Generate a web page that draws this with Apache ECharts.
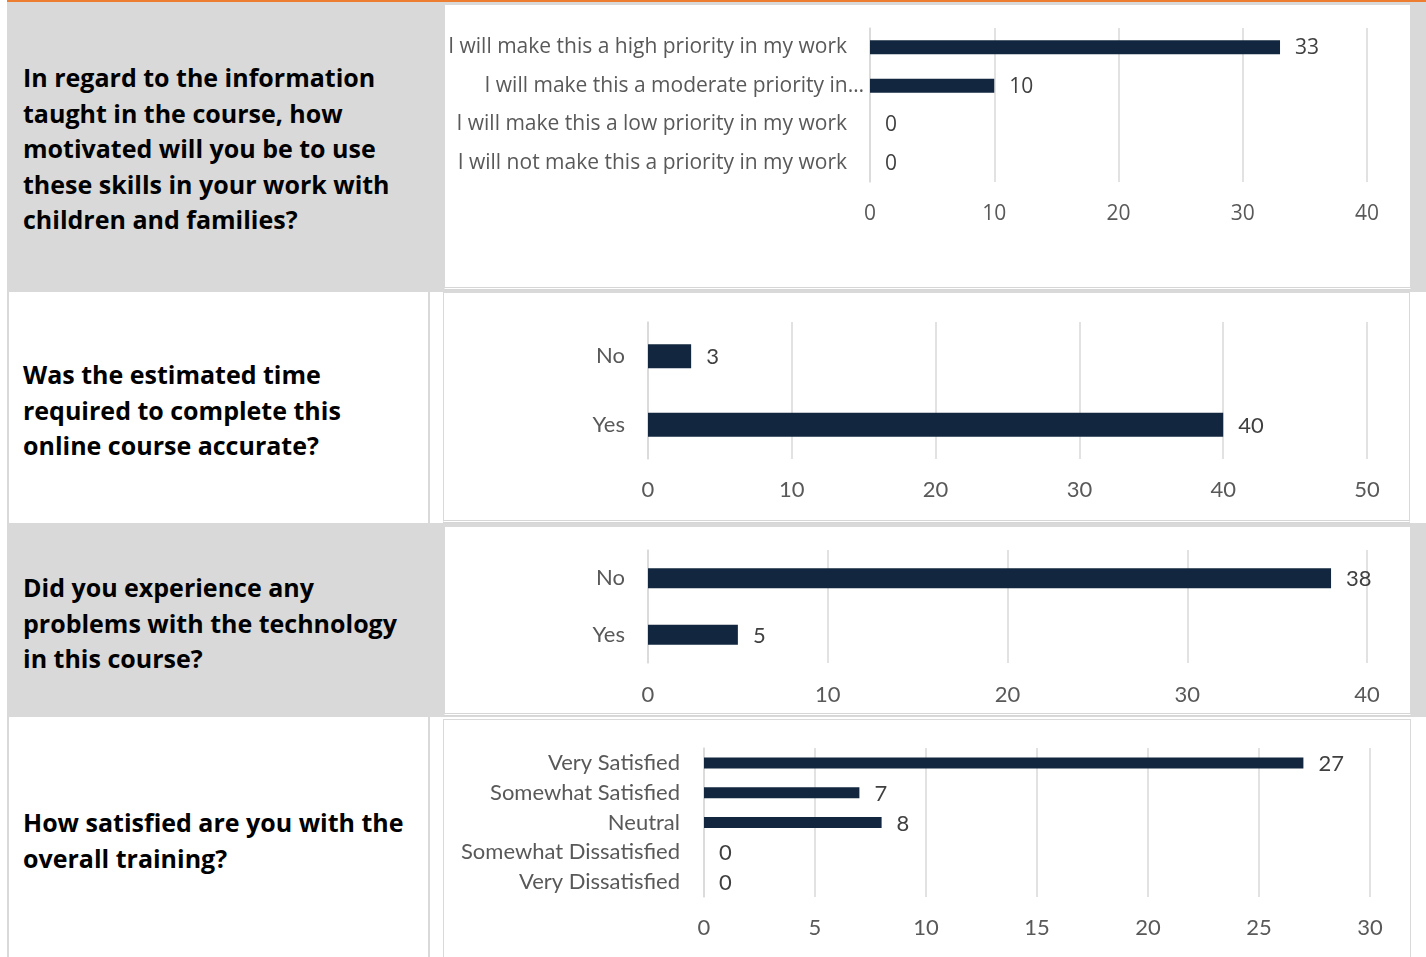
<!DOCTYPE html>
<html>
<head>
<meta charset="utf-8">
<script src="https://cdn.jsdelivr.net/npm/echarts@6/dist/echarts.min.js"></script>
<style>
  html, body { margin: 0; padding: 0; width: 1426px; height: 957px; overflow: hidden; background: #ffffff; }
  .abs { position: absolute; box-sizing: border-box; }
  .gray { background: #d9d9d9; }
  .box { background: #ffffff; border: 1px solid #d9d9d9; border-bottom: 3px double #d6d6d6; }
  .vline { background: #d9d9d9; width: 2px; }
  .q { position: absolute; left: 23px; font-family: "Open Sans", "Noto Sans", sans-serif; font-weight: 700; font-size: 25px; line-height: 35.5px; color: #000; white-space: nowrap; }
  #chart { position: absolute; left: 0; top: 0; width: 1426px; height: 957px; }
</style>
</head>
<body>
<!-- orange top rule -->
<div class="abs" style="left:7px;top:0;width:1419px;height:2px;background:#ed7d31;"></div>
<!-- row 1 -->
<div class="abs gray" style="left:7px;top:2px;width:1419px;height:290px;"></div>
<div class="abs box" style="left:444px;top:4px;width:967px;height:286px;"></div>
<div class="q" style="top:60px;">In regard to the information<br>taught in the course, how<br>motivated will you be to use<br>these skills in your work with<br>children and families?</div>
<!-- row 2 -->
<div class="abs vline" style="left:7px;top:292px;height:231px;"></div>
<div class="abs vline" style="left:428px;top:292px;height:231px;"></div>
<div class="abs box" style="left:443px;top:292px;width:967px;height:231px;"></div>
<div class="q" style="top:357px;">Was the estimated time<br>required to complete this<br>online course accurate?</div>
<!-- row 3 -->
<div class="abs gray" style="left:7px;top:523px;width:1419px;height:194px;"></div>
<div class="abs box" style="left:444px;top:526px;width:967px;height:190px;"></div>
<div class="q" style="top:570px;">Did you experience any<br>problems with the technology<br>in this course?</div>
<!-- row 4 -->
<div class="abs vline" style="left:7px;top:717px;height:240px;"></div>
<div class="abs vline" style="left:428px;top:717px;height:240px;"></div>
<div class="abs box" style="left:443px;top:719px;width:968px;height:250px;"></div>
<div class="q" style="top:805px;">How satisfied are you with the<br>overall training?</div>

<div id="chart"></div>
<script>
// ---- data ----
const motivationCategories = [
  'I will make this a high priority in my work',
  'I will make this a moderate priority in…',
  'I will make this a low priority in my work',
  'I will not make this a priority in my work'
];
const motivationValues = [33, 10, 0, 0];
const motivationTicks = [0, 10, 20, 30, 40];

const timeCategories = ['No', 'Yes'];
const timeValues = [3, 40];
const timeTicks = [0, 10, 20, 30, 40, 50];

const techCategories = ['No', 'Yes'];
const techValues = [38, 5];
const techTicks = [0, 10, 20, 30, 40];

const satisfactionCategories = ['Very Satisfied', 'Somewhat Satisfied', 'Neutral', 'Somewhat Dissatisfied', 'Very Dissatisfied'];
const satisfactionValues = [27, 7, 8, 0, 0];
const satisfactionTicks = [0, 5, 10, 15, 20, 25, 30];

// ---- styling ----
const BAR = '#13263f';
const GRID = '#d9d9d9';
const FONT1 = '"Open Sans", "Noto Sans", sans-serif';
const FONT2 = 'Lato, "Noto Sans", sans-serif';

const panels = [
  { cats: motivationCategories, vals: motivationValues, ticks: motivationTicks,
    grid: { left: 870, top: 28, width: 497, height: 154 }, barWidth: 14, font: FONT1, size: 21, ymargin: 6, xmargin: 22, truncPad: true },
  { cats: timeCategories, vals: timeValues, ticks: timeTicks,
    grid: { left: 648, top: 322, width: 719, height: 137 }, barWidth: 24, font: FONT2, size: 22, ymargin: 23, xmargin: 20 },
  { cats: techCategories, vals: techValues, ticks: techTicks,
    grid: { left: 648, top: 550, width: 719, height: 113 }, barWidth: 20, font: FONT2, size: 22, ymargin: 23, xmargin: 21 },
  { cats: satisfactionCategories, vals: satisfactionValues, ticks: satisfactionTicks,
    grid: { left: 704, top: 748, width: 666, height: 149 }, barWidth: 11, font: FONT2, size: 22, ymargin: 24, xmargin: 20 }
];

const option = { animation: false, backgroundColor: 'transparent', grid: [], xAxis: [], yAxis: [], series: [] };
panels.forEach((p, i) => {
  const step = p.ticks[1] - p.ticks[0];
  option.grid.push(Object.assign({ containLabel: false }, p.grid));
  option.xAxis.push({
    type: 'value', gridIndex: i, min: p.ticks[0], max: p.ticks[p.ticks.length - 1], interval: step,
    axisLine: { show: false }, axisTick: { show: false },
    splitLine: { show: true, lineStyle: { color: GRID, width: 1.5 } },
    axisLabel: { show: true, color: '#595959', fontFamily: p.font, fontSize: p.size, margin: p.xmargin }
  });
  const yLabel = { color: '#595959', fontFamily: p.font, fontSize: p.size, margin: p.ymargin };
  if (p.truncPad) {
    yLabel.formatter = v => v.endsWith('…') ? '{m|' + v + '}' : '{n|' + v + '}';
    yLabel.rich = {
      m: { color: '#595959', fontFamily: p.font, fontSize: p.size },
      n: { color: '#595959', fontFamily: p.font, fontSize: p.size, padding: [0, 17, 0, 0] }
    };
  }
  option.yAxis.push({
    type: 'category', gridIndex: i, inverse: true, data: p.cats,
    axisLine: { show: true, lineStyle: { color: GRID, width: 1.5 } }, axisTick: { show: false },
    axisLabel: yLabel
  });
  option.series.push({
    type: 'bar', xAxisIndex: i, yAxisIndex: i, data: p.vals, barWidth: p.barWidth,
    itemStyle: { color: BAR },
    label: { show: true, position: 'right', distance: 15, offset: [0, 1], color: '#404040', fontFamily: p.font, fontSize: p.size }
  });
});

const chart = echarts.init(document.getElementById('chart'), null, { renderer: 'canvas' });
chart.setOption(option);
</script>
</body>
</html>
